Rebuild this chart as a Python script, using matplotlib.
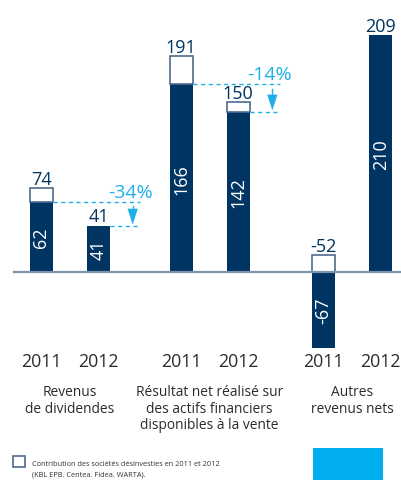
import matplotlib
matplotlib.use("Agg")
import matplotlib.pyplot as plt
from matplotlib.patches import Polygon, Rectangle

plt.rcParams['font.family'] = ['Open Sans', 'DejaVu Sans']

# data
years = ["2011", "2012", "2011", "2012", "2011", "2012"]
groups = ["Revenus\nde dividendes",
          "Résultat net réalisé sur\ndes actifs financiers\ndisponibles à la vente",
          "Autres\nrevenus nets"]
navy_vals = [62, 41, 166, 142, -67, 210]     # sans sociétés désinvesties
total_vals = [74, 41, 191, 150, -52, 209]    # publié
pct_labels = ["-34%", "-14%"]
legend_txt = ("Contribution des sociétés désinvesties en 2011 et 2012\n"
              "(KBL EPB. Centea. Fidea. WARTA).")

xpos = [0, 1, 2.45, 3.45, 4.95, 5.95]
group_x = [0.5, 2.95, 5.45]
bw = 0.4

navy = '#003462'
cyan = '#1fb0e8'
edge = '#4f6a8f'

fig = plt.figure(figsize=(4.01, 4.81), dpi=100)
ax = fig.add_axes([0, 0, 1, 1])
ax.set_xlim(-0.728, 6.307)
ax.set_ylim(-184.1, 241.6)
ax.axis('off')

# bars
ax.bar(xpos, navy_vals, width=bw, color=navy, zorder=2)
for x, n, t in zip(xpos, navy_vals, total_vals):
    d = t - n
    if d > 0:
        ax.bar(x, d, width=bw, bottom=max(n, 0), color='white',
               edgecolor=edge, linewidth=1.2, zorder=2)
    top = max(n, 0) + max(d, 0)
    ax.annotate(str(t), (x, top), xytext=(0, 3), textcoords='offset points',
                ha='center', va='baseline', fontsize=13, color=navy)
    ax.text(x, n / 2, str(n), rotation=90, ha='center', va='center',
            fontsize=13, color='white', zorder=3)

# baseline
ax.plot([-0.48, 6.307], [0, 0], color='#7f93ad', lw=1.6, zorder=3)

# variation arrows
for i, (a, b) in enumerate([(0, 1), (2, 3)]):
    right = xpos[b] + 0.73
    xa = xpos[b] + 0.6
    y0, y1 = navy_vals[a], navy_vals[b]
    ax.plot([xpos[a] + bw / 2, right], [y0, y0], color=cyan, lw=1,
            ls=(0, (3, 2.5)))
    ax.plot([xpos[b] + bw / 2, right], [y1, y1], color=cyan, lw=1,
            ls=(0, (3, 2.5)))
    ax.plot([xa, xa], [y0 - 4, y1 + 12], color=cyan, lw=1)
    ax.add_patch(Polygon([[xa - 0.09, y1 + 15], [xa + 0.09, y1 + 15],
                          [xa, y1 + 1]], closed=True, color=cyan, lw=0))
    ax.text(xa - 0.04, y0 + 9, pct_labels[i], ha='center', va='center',
            fontsize=14, color=cyan)

# year and group labels
for x, yr in zip(xpos, years):
    ax.text(x, -78.5, yr, ha='center', va='center', fontsize=12.8,
            color='#2b2b2b')
for x, g in zip(group_x, groups):
    ax.text(x, -99.5, g, ha='center', va='top', fontsize=9.9,
            color='#2b2b2b', linespacing=1.12)

# legend
fig.add_artist(Rectangle((13 / 401, 1 - 468 / 481), 12 / 401, 11 / 481,
                         transform=fig.transFigure, facecolor='white',
                         edgecolor=edge, lw=1.2))
fig.text(32 / 401, 1 - 470 / 481, legend_txt, ha='left', va='center',
         fontsize=5.3, color='#333333', linespacing=1.7)
fig.add_artist(Rectangle((313 / 401, 0), 70 / 401, 32 / 481,
                         transform=fig.transFigure, facecolor='#00aeef',
                         lw=0))

fig.savefig("out.png", dpi=100)
